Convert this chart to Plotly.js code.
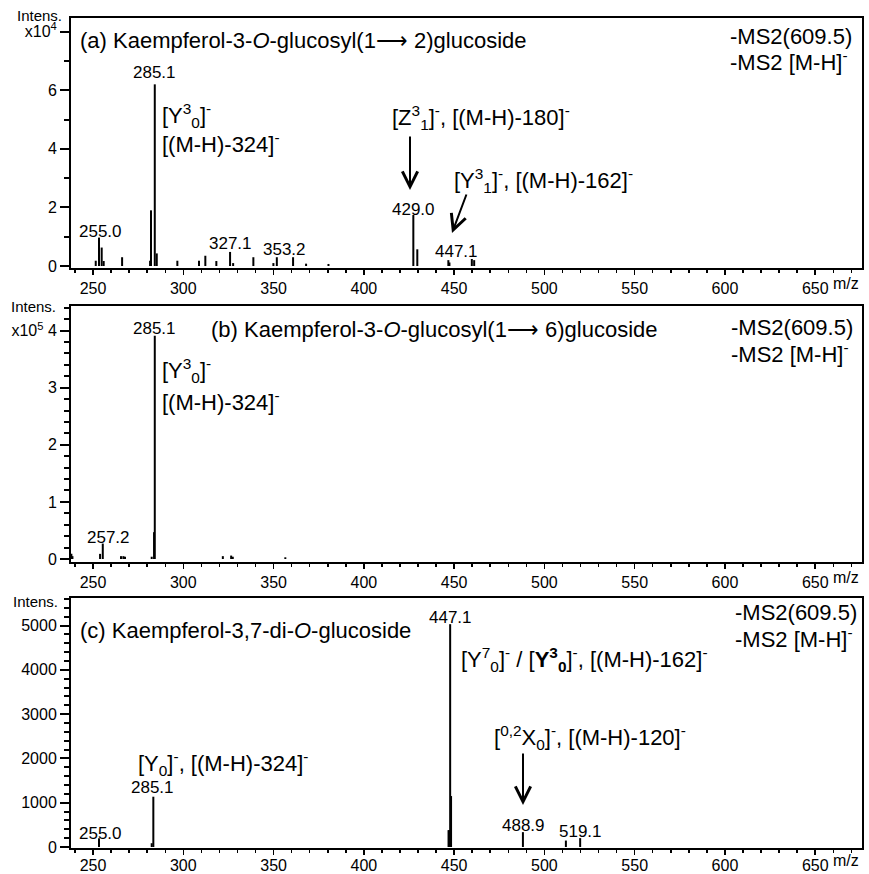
<!DOCTYPE html>
<html>
<head>
<meta charset="utf-8">
<script src="https://cdn.plot.ly/plotly-3.0.1.min.js"></script>
<style>html,body{margin:0;padding:0;background:#fff;}#chart{width:869px;height:874px;}</style>
</head>
<body>
<div id="chart"></div>
<script>
// ---------- DATA ----------
// Panel (a): Kaempferol-3-O-glucosyl(1->2)glucoside, intensity x10^4
const mzA  = [251.5, 253.3, 254.8, 255.9, 266.1, 281.6, 282.1, 284.2, 285.3, 296.7, 308.7, 312.2, 318.3, 325.9, 327.6, 338.8, 349.9, 351.8, 360.8, 368.0, 380.4, 427.4, 429.6, 446.8, 447.4, 459.8, 461.1];
const intA = [0.18, 0.97, 0.63, 0.17, 0.30, 0.18, 1.90, 6.20, 0.43, 0.18, 0.18, 0.35, 0.17, 0.48, 0.10, 0.30, 0.10, 0.30, 0.30, 0.08, 0.07, 1.74, 0.57, 0.20, 0.12, 0.24, 0.20];
// Panel (b): Kaempferol-3-O-glucosyl(1->6)glucoside, intensity x10^5
const mzB  = [238.0, 238.6, 253.9, 255.4, 265.5, 266.8, 267.7, 282.5, 283.8, 284.2, 321.9, 326.5, 327.4, 356.5];
const intB = [0.09, 0.05, 0.09, 0.27, 0.05, 0.05, 0.04, 0.04, 0.47, 3.91, 0.05, 0.06, 0.04, 0.03];
// Panel (c): Kaempferol-3,7-di-O-glucoside, intensity
const mzC  = [253.3, 282.5, 283.4, 446.9, 447.3, 447.8, 448.3, 488.1, 511.9, 519.8];
const intC = [196, 85, 1135, 380, 380, 5030, 1150, 335, 145, 200];

// Axis ticks
const xTicks = [250, 300, 350, 400, 450, 500, 550, 600, 650];
const yTicksA = [0, 2, 4, 6, 8];
const yTextA  = ['0', '2', '4', '6', 'x10<sup>4</sup>'];
const yTicksB = [0, 1, 2, 3, 4];
const yTextB  = ['0', '1', '2', '3', 'x10<sup>5</sup> 4'];
const yTicksC = [0, 1000, 2000, 3000, 4000, 5000];
const yTextC  = ['0', '1000', '2000', '3000', '4000', '5000'];

// ---------- helpers ----------
function sticks(mz, it, xa, ya) {
  const x = [], y = [];
  for (let i = 0; i < mz.length; i++) { x.push(mz[i], mz[i], null); y.push(0, it[i], null); }
  return {type: 'scatter', mode: 'lines', x: x, y: y, xaxis: xa, yaxis: ya,
          line: {color: '#000', width: 2}, hoverinfo: 'skip', showlegend: false};
}
const FONT = 'Liberation Sans, Arial, Helvetica, sans-serif';
const L = 71, R = 862, T = 18, B = 848;
const W = R - L, H = B - T;
const px = v => (v - L) / W;
const py = v => (B - v) / H;

function txt(x, y, text, size, anchor) {
  return {xref: 'paper', yref: 'paper', x: px(x), y: py(y), text: text, showarrow: false,
          xanchor: anchor || 'center', yanchor: 'middle',
          font: {family: FONT, size: size, color: '#000'}};
}
function arrow(x, y, ax, ay) {
  return {xref: 'paper', yref: 'paper', x: px(x), y: py(y), text: '', showarrow: true,
          ax: ax, ay: ay, arrowhead: 5, arrowsize: 1.5, arrowwidth: 2, arrowcolor: '#000', standoff: 0};
}

const xRange = [237.8, 675.9];
function xAxis(anchor, standoff) {
  return {anchor: anchor, domain: [0, 1], range: xRange, tickmode: 'array', tickvals: xTicks,
          ticks: 'outside', ticklen: 5, tickwidth: 1.5, tickcolor: '#000',
          ticklabelstandoff: standoff,
          minor: {dtick: 10, tick0: 0, ticks: 'outside', ticklen: 3, tickwidth: 1.5, tickcolor: '#000', showgrid: false},
          showline: true, linewidth: 2, linecolor: '#000', mirror: true,
          showgrid: false, zeroline: false, fixedrange: true,
          tickfont: {family: FONT, size: 16, color: '#000'}};
}
function yAxis(anchor, domain, range, vals, texts, minorStep) {
  return {anchor: anchor, domain: domain, range: range, tickmode: 'array', tickvals: vals, ticktext: texts,
          ticks: 'outside', ticklen: 9, tickwidth: 2, tickcolor: '#000',
          minor: {dtick: minorStep, tick0: 0, ticks: 'outside', ticklen: 5, tickwidth: 2, tickcolor: '#000', showgrid: false},
          showline: true, linewidth: 2, linecolor: '#000', mirror: true,
          showgrid: false, zeroline: false, fixedrange: true,
          tickfont: {family: FONT, size: 16, color: '#000'}};
}

const data = [sticks(mzA, intA, 'x', 'y'), sticks(mzB, intB, 'x2', 'y2'), sticks(mzC, intC, 'x3', 'y3')];

const annotations = [
  // panel (a)
  txt(78, 40, '(a) Kaempferol-3-<i>O</i>-glucosyl(1⟶ 2)glucoside', 22, 'left'),
  txt(728, 36, '-MS2(609.5)', 22, 'left'),
  txt(728, 61, '-MS2 [M-H]<sup>-</sup>', 22, 'left'),
  txt(64, 16, 'Intens.', 15, 'right'),
  txt(154, 72, '285.1', 17),
  txt(160, 115, '[Y<sup>3</sup><sub>0</sub>]<sup>-</sup>', 22, 'left'),
  txt(160, 143, '[(M-H)-324]<sup>-</sup>', 22, 'left'),
  txt(390, 117, '[Z<sup>3</sup><sub>1</sub>]<sup>-</sup>, [(M-H)-180]<sup>-</sup>', 22, 'left'),
  arrow(410, 190, 0, -55),
  txt(413, 209, '429.0', 17),
  txt(452, 181, '[Y<sup>3</sup><sub>1</sub>]<sup>-</sup>, [(M-H)-162]<sup>-</sup>', 22, 'left'),
  arrow(452, 233, 15, -40),
  txt(456, 251, '447.1', 17),
  txt(100, 232, '255.0', 17),
  txt(230, 243, '327.1', 17),
  txt(284, 250, '353.2', 17),
  txt(861, 283, 'm/z', 16, 'right'),
  // panel (b)
  txt(58, 306, 'Intens.', 15, 'right'),
  txt(154, 328, '285.1', 17),
  txt(160, 370, '[Y<sup>3</sup><sub>0</sub>]<sup>-</sup>', 22, 'left'),
  txt(160, 401, '[(M-H)-324]<sup>-</sup>', 22, 'left'),
  txt(209, 330, '(b) Kaempferol-3-<i>O</i>-glucosyl(1⟶ 6)glucoside', 22, 'left'),
  txt(729, 327, '-MS2(609.5)', 22, 'left'),
  txt(729, 353, '-MS2 [M-H]<sup>-</sup>', 22, 'left'),
  txt(108, 537, '257.2', 17),
  txt(861, 577, 'm/z', 16, 'right'),
  // panel (c)
  txt(60, 601, 'Intens.', 15, 'right'),
  txt(78, 630, '(c) Kaempferol-3,7-di-<i>O</i>-glucoside', 22, 'left'),
  txt(450, 617, '447.1', 17),
  txt(459, 659, '[Y<sup>7</sup><sub>0</sub>]<sup>-</sup> / [<b>Y<sup>3</sup><sub>0</sub></b>]<sup>-</sup>, [(M-H)-162]<sup>-</sup>', 22, 'left'),
  txt(733, 612, '-MS2(609.5)', 22, 'left'),
  txt(733, 638, '-MS2 [M-H]<sup>-</sup>', 22, 'left'),
  txt(492, 737, '[<sup>0,2</sup>X<sub>0</sub>]<sup>-</sup>, [(M-H)-120]<sup>-</sup>', 22, 'left'),
  arrow(523, 805, 0, -53),
  txt(523, 825, '488.9', 17),
  txt(580, 831, '519.1', 17),
  txt(136, 763, '[Y<sub>0</sub>]<sup>-</sup>, [(M-H)-324]<sup>-</sup>', 22, 'left'),
  txt(152, 787, '285.1', 17),
  txt(100, 833, '255.0', 17),
  txt(861, 860, 'm/z', 16, 'right')
];

const layout = {
  width: 869, height: 874,
  margin: {l: L, r: 869 - R, t: T, b: 874 - B, pad: 0},
  paper_bgcolor: '#fff', plot_bgcolor: '#fff',
  showlegend: false,
  font: {family: FONT, color: '#000'},
  xaxis:  xAxis('y', 0),
  xaxis2: xAxis('y2', 0),
  xaxis3: xAxis('y3', -3),
  yaxis:  yAxis('x',  [py(268), 1],      [-0.068, 8.464], yTicksA, yTextA, 1),
  yaxis2: yAxis('x2', [py(562), py(306)], [-0.0525, 4.431], yTicksB, yTextB, 0.2),
  yaxis3: yAxis('x3', [0, py(598)],       [-23, 5621], yTicksC, yTextC, 200),
  annotations: annotations
};

Plotly.newPlot('chart', data, layout, {displayModeBar: false, staticPlot: true});
</script>
</body>
</html>
